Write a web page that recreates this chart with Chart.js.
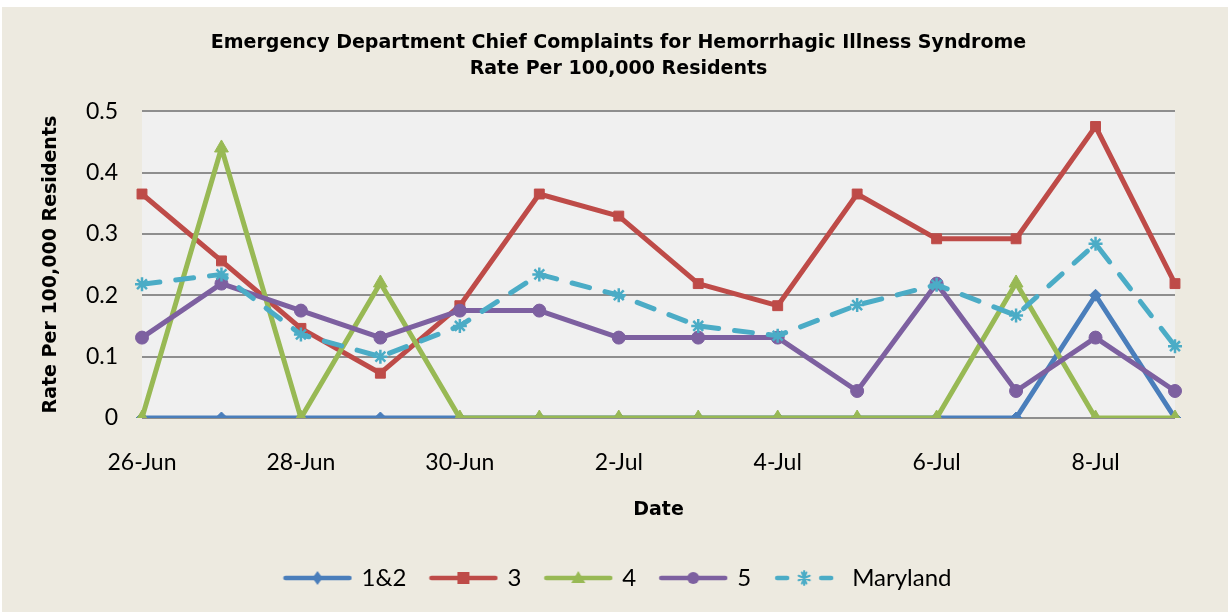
<!DOCTYPE html>
<html><head><meta charset="utf-8">
<script src="https://cdn.jsdelivr.net/npm/chart.js@4.4.1/dist/chart.umd.min.js"></script>
<style>html,body{margin:0;padding:0;background:#fff;}canvas{display:block;}</style>
</head><body>
<canvas id="c" width="1228" height="614"></canvas>
<script>
const dates = ['26-Jun','27-Jun','28-Jun','29-Jun','30-Jun','1-Jul','2-Jul','3-Jul','4-Jul','5-Jul','6-Jul','7-Jul','8-Jul','9-Jul'];
const region12 = [0,0,0,0,0,0,0,0,0,0,0,0,0.2,0];
const region3 = [0.365,0.256,0.146,0.073,0.183,0.365,0.329,0.219,0.183,0.365,0.292,0.292,0.475,0.219];
const region4 = [0,0.44,0,0.22,0,0,0,0,0,0,0,0.22,0,0];
const region5 = [0.131,0.219,0.175,0.131,0.175,0.175,0.131,0.131,0.131,0.044,0.219,0.044,0.131,0.044];
const maryland = [0.218,0.234,0.136,0.100,0.150,0.234,0.200,0.150,0.134,0.184,0.217,0.167,0.284,0.117];
const yTicks = [0,0.1,0.2,0.3,0.4,0.5];

const FONT = 'Lato';
const BOLD = 'DejaVu Sans';

function sample(color, style, dashed){
  const c = document.createElement('canvas');
  c.width = 70; c.height = 20;
  const g = c.getContext('2d');
  g.strokeStyle = color; g.fillStyle = color; g.lineCap = 'round';
  g.lineWidth = 4.5;
  g.beginPath();
  if (dashed){ g.moveTo(4,10); g.lineTo(14,10); g.moveTo(48,10); g.lineTo(58,10); }
  else { g.moveTo(3,10); g.lineTo(67,10); }
  g.stroke();
  g.lineWidth = 2;
  const x = dashed ? 31 : 35, y = 10;
  g.beginPath();
  if (style==='rectRot'){ g.moveTo(x,y-7);g.lineTo(x+5,y);g.lineTo(x,y+7);g.lineTo(x-5,y);g.closePath();g.fill(); }
  else if (style==='rect'){ g.fillRect(x-6,y-6,12,12); }
  else if (style==='triangle'){ g.moveTo(x,y-7);g.lineTo(x+7,y+5);g.lineTo(x-7,y+5);g.closePath();g.fill(); }
  else if (style==='circle'){ g.arc(x,y,6,0,Math.PI*2); g.fill(); }
  else if (style==='star'){
    for (let k=0;k<4;k++){ const a=k*Math.PI/4+Math.PI/8; g.moveTo(x-6*Math.cos(a),y-6*Math.sin(a)); g.lineTo(x+6*Math.cos(a),y+6*Math.sin(a)); }
    g.moveTo(x,y-7); g.lineTo(x,y+7);
    g.stroke();
  }
  return c;
}

const specs = [
  {label:'1&2', data:region12, color:'#4A7EBB', ps:'rectRot', r:6},
  {label:'3', data:region3, color:'#BE4B48', ps:'rect', r:7},
  {label:'4', data:region4, color:'#98B954', ps:'triangle', r:8},
  {label:'5', data:region5, color:'#7D60A0', ps:'circle', r:6.5},
  {label:'Maryland', data:maryland, color:'#4BACC6', ps:'star', r:7, dashed:true},
];

const datasets = specs.map((s,i)=>({
  label:s.label, data:s.data, borderColor:s.color, backgroundColor:s.color,
  pointBackgroundColor:s.color, pointBorderColor:s.color,
  pointStyle:s.ps, pointRadius:s.r, pointBorderWidth: s.ps==='star'?2.5:1,
  borderWidth:5, tension:0, fill:false,
  borderDash: s.dashed ? [18,16] : [], borderCapStyle: s.dashed ? 'round':'butt',
  borderJoinStyle:'round',
  order: specs.length - i
}));

const bgPlugin = {
  id:'bg',
  beforeDraw(chart){
    const {ctx, chartArea:a} = chart;
    ctx.save();
    ctx.fillStyle='#ffffff'; ctx.fillRect(0,0,chart.width,chart.height);
    ctx.fillStyle='#EDEAE0'; ctx.fillRect(2,7,chart.width-2,chart.height-9);
    ctx.fillStyle='#F0F0F0'; ctx.fillRect(a.left,a.top,a.right-a.left,a.bottom-a.top);
    ctx.restore();
  }
};

new Chart(document.getElementById('c'), {
  type:'line',
  data:{labels:dates, datasets},
  plugins:[bgPlugin],
  options:{
    responsive:false, animation:false,
    layout:{padding:{left:62,right:53,top:0,bottom:14}},
    plugins:{
      title:{display:true, text:['Emergency Department Chief Complaints for Hemorrhagic Illness Syndrome','Rate Per 100,000 Residents'],
        color:'#000', font:{family:BOLD, size:19, weight:'bold', lineHeight:1.32}, padding:{top:31,bottom:30}},
      legend:{position:'bottom',
        labels:{usePointStyle:true, pointStyleWidth:64, boxHeight:20, padding:25, color:'#000',
          font:{family:FONT,size:24},
          sort:(a,b)=>a.datasetIndex-b.datasetIndex,
          generateLabels(chart){
            return specs.map((s,i)=>({text:s.label, pointStyle:sample(s.color,s.ps,s.dashed), fillStyle:s.color, strokeStyle:s.color, lineWidth:0, hidden:false, datasetIndex:i, fontColor:'#000'}));
          }}},
      tooltip:{enabled:false}
    },
    scales:{
      x:{offset:false,
        afterFit(s){ s.height = 123; },
        grid:{display:false, drawTicks:false},
        border:{display:false},
        ticks:{autoSkip:false, maxRotation:0, padding:31, color:'#000', font:{family:FONT,size:23},
          callback(v,i){ return i%2===0 ? this.getLabelForValue(v) : ''; }},
        title:{display:true, text:'Date', color:'#000', font:{family:BOLD,size:19,weight:'bold'}, padding:{top:10,bottom:20}}
      },
      y:{min:0,max:0.5,
        afterFit(s){ s.width = 80; },
        afterBuildTicks(s){ s.ticks = yTicks.map(v=>({value:v})); },
        grid:{color:'#8E8E8E', lineWidth:2, drawTicks:false},
        border:{display:false},
        ticks:{padding:24, color:'#000', font:{family:FONT,size:23}, callback:v=>String(v)},
        title:{display:true, text:'Rate Per 100,000 Residents', color:'#000', font:{family:BOLD,size:19,weight:'bold'}, padding:{top:-22,bottom:0}}
      }
    }
  }
});
</script>
</body></html>
